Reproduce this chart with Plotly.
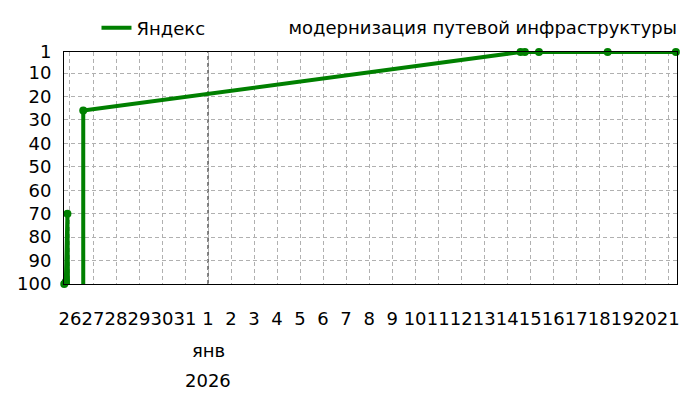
import plotly.graph_objects as go

# ---- data ----
series_name = "Яндекс"
chart_title = "модернизация путевой инфраструктуры"
dates = [
    "2025-12-25 16:30", "2025-12-25 18:00", "2025-12-25 19:40", "2025-12-25 21:20",
    "2025-12-26 13:49", "2025-12-26 13:50",
    "2026-01-14 14:00", "2026-01-14 18:30", "2026-01-15 09:10",
    "2026-01-18 08:50", "2026-01-21 08:00",
]
positions = [97, 100, 99, 70, 1000, 26, 1, 1, 1, 1, 1]

tick_dates = (["2025-12-%02d" % d for d in range(26, 32)] +
              ["2026-01-%02d" % d for d in range(1, 22)])
tick_text = [str(d) for d in range(26, 32)] + [str(d) for d in range(1, 22)]
y_ticks = [1, 10, 20, 30, 40, 50, 60, 70, 80, 90, 100]
month_label = "янв"
year_label = "2026"
x_range = ["2025-12-25 17:45", "2026-01-21 09:10"]

GREEN = "#008000"
FONT = "DejaVu Sans"

fig = go.Figure()
fig.add_trace(go.Scatter(
    x=dates, y=positions, mode="lines", name=series_name,
    line=dict(color=GREEN, width=4),
    cliponaxis=False,
))
fig.add_trace(go.Scatter(
    x=dates, y=positions, mode="markers", name=series_name,
    marker=dict(color=GREEN, size=8), showlegend=False,
    cliponaxis=False,
))

fig.add_shape(type="line", xref="x", yref="paper",
              x0="2026-01-01", x1="2026-01-01", y0=0, y1=1,
              line=dict(color="black", width=1, dash="4px,3px"), layer="between")

fig.add_annotation(x="2026-01-01", xref="x", y=-0.2845, yref="paper",
                   text=month_label, showarrow=False, yanchor="middle",
                   font=dict(family=FONT, size=18, color="black"))
fig.add_annotation(x="2026-01-01", xref="x", y=-0.418, yref="paper",
                   text=year_label, showarrow=False, yanchor="middle",
                   font=dict(family=FONT, size=18, color="black"))

fig.update_layout(
    width=700, height=400,
    margin=dict(l=64, r=23, t=52, b=116, autoexpand=False),
    paper_bgcolor="white", plot_bgcolor="white",
    font=dict(family=FONT, size=18, color="black"),
    title=dict(text=chart_title, x=677/700, xanchor="right", xref="container",
               y=1 - 28/400, yanchor="middle", yref="container",
               font=dict(family=FONT, size=18, color="black")),
    showlegend=True,
    legend=dict(orientation="h", x=0.053, xanchor="left", y=1 + 24/232,
                yanchor="middle", font=dict(family=FONT, size=18),
                bgcolor="rgba(0,0,0,0)"),
)
fig.update_xaxes(
    type="date", range=x_range,
    tickmode="array", tickvals=tick_dates, ticktext=tick_text, tickangle=0,
    showgrid=True, gridcolor="#b0b0b0", griddash="4px,3px", gridwidth=1,
    showline=True, linecolor="black", linewidth=1, mirror=True,
    ticks="", ticklabelstandoff=18, zeroline=False, automargin=False,
)
fig.update_yaxes(
    range=[100, 1], tickmode="array", tickvals=y_ticks,
    showgrid=True, gridcolor="#b0b0b0", griddash="4px,3px", gridwidth=1,
    showline=True, linecolor="black", linewidth=1, mirror=True,
    ticks="", ticklabelstandoff=8, zeroline=False, automargin=False,
)

fig.write_html("out.html", config={"displayModeBar": False},
               post_script="document.body.style.margin='0';")
